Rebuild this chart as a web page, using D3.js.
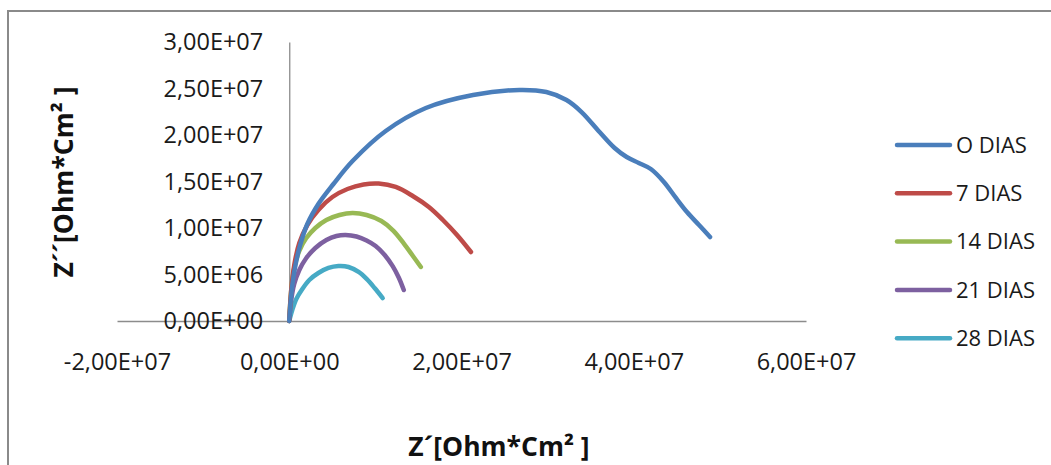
<!DOCTYPE html>
<html>
<head>
<meta charset="utf-8">
<script src="https://cdn.jsdelivr.net/npm/d3@7/dist/d3.min.js"></script>
<style>
  html, body { margin: 0; padding: 0; background: #fff; }
  svg { display: block; }
  .tick text { font-family: "Open Sans", "Liberation Sans", sans-serif; fill: #1a1a1a; }
</style>
</head>
<body>
<svg id="chart" width="1051" height="465"></svg>
<script>
// Nyquist plot: Z' (real) vs Z'' (imaginary) for each immersion time
const seriesNames = ["O DIAS", "7 DIAS", "14 DIAS", "21 DIAS", "28 DIAS"];
const seriesColors = ["#4a7ebb", "#be4b48", "#98b954", "#7d60a0", "#46aac5"];

// Z' and Z'' values, in units of 1E+06 Ohm*Cm²
const zReal0  = [0, 0.23, 0.58, 1.17, 2.10, 3.38, 5.13, 7.35, 11.20, 15.86, 21.34, 26.71, 29.85, 32.19, 33.94, 36.03, 37.78, 39.18, 40.58, 41.98, 43.50, 44.90, 46.18, 47.58, 48.86];
const zImag0  = [0, 2.80, 5.27, 7.85, 10.43, 12.58, 14.73, 17.20, 20.43, 22.90, 24.30, 24.84, 24.62, 23.76, 22.47, 20.32, 18.60, 17.63, 16.99, 16.34, 14.95, 13.23, 11.72, 10.32, 9.03];

const zReal7  = [0, 0.23, 0.58, 1.17, 2.10, 3.38, 5.01, 6.76, 8.63, 10.38, 12.36, 14.34, 16.21, 17.84, 19.48, 21.10];
const zImag7  = [0, 3.33, 6.02, 8.39, 10.32, 11.94, 13.33, 14.19, 14.68, 14.78, 14.41, 13.44, 12.26, 10.86, 9.25, 7.42];

const zReal14 = [0, 0.23, 0.58, 1.17, 1.98, 3.03, 4.31, 5.83, 7.35, 8.98, 10.70, 12.10, 13.29, 14.34, 15.28];
const zImag14 = [0, 3.33, 5.70, 7.53, 8.92, 10.00, 10.86, 11.40, 11.61, 11.40, 10.75, 9.70, 8.35, 7.02, 5.81];

const zReal21 = [0, 0.23, 0.58, 1.17, 1.98, 3.03, 4.31, 5.48, 6.53, 7.81, 8.98, 10.03, 11.08, 12.01, 12.71, 13.30];
const zImag21 = [0, 2.26, 3.98, 5.48, 6.77, 7.85, 8.71, 9.14, 9.25, 9.09, 8.66, 8.06, 7.10, 5.90, 4.68, 3.33];

const zReal28 = [0, 0.35, 0.82, 1.52, 2.33, 3.38, 4.55, 5.71, 6.88, 8.05, 8.98, 9.91, 10.85];
const zImag28 = [0, 1.18, 2.37, 3.44, 4.41, 5.16, 5.70, 5.91, 5.81, 5.27, 4.52, 3.55, 2.47];

const unit = 1e6;

const xTicks = [-2e7, 0, 2e7, 4e7, 6e7];
const yTicks = [0, 5e6, 1e7, 1.5e7, 2e7, 2.5e7, 3e7];

const xTitle = "Z´[Ohm*Cm² ]";
const yTitle = "Z´´[Ohm*Cm² ]";

// Spreadsheet-style scientific labels: 2,50E+07
function sci(v) {
  if (v === 0) return "0,00E+00";
  const e = Math.floor(Math.log10(Math.abs(v)) + 1e-9);
  const m = v / Math.pow(10, e);
  const es = (e < 0 ? "-" : "+") + String(Math.abs(e)).padStart(2, "0");
  return m.toFixed(2).replace(".", ",") + "E" + es;
}

const series = [
  { name: seriesNames[0], color: seriesColors[0], xs: zReal0,  ys: zImag0 },
  { name: seriesNames[1], color: seriesColors[1], xs: zReal7,  ys: zImag7 },
  { name: seriesNames[2], color: seriesColors[2], xs: zReal14, ys: zImag14 },
  { name: seriesNames[3], color: seriesColors[3], xs: zReal21, ys: zImag21 },
  { name: seriesNames[4], color: seriesColors[4], xs: zReal28, ys: zImag28 }
];

const svg = d3.select("#chart");

// outer chart frame
svg.append("rect")
  .attr("x", 8).attr("y", 11)
  .attr("width", 1100).attr("height", 520)
  .attr("fill", "#fff")
  .attr("stroke", "#8a8a8a")
  .attr("stroke-width", 2);

const x = d3.scaleLinear().domain([-2e7, 6e7]).range([117, 806]);
const y = d3.scaleLinear().domain([0, 3e7]).range([321, 42]);

const axisColor = "#8c8c8c";
const tickFont = 23.5;

// horizontal axis through Z''=0
const gx = svg.append("g")
  .attr("transform", `translate(0,${y(0)})`)
  .call(d3.axisBottom(x).tickValues(xTicks).tickFormat(sci).tickSize(0).tickSizeOuter(0).tickPadding(32));
gx.select(".domain").attr("stroke", axisColor).attr("stroke-width", 1.3);
gx.selectAll(".tick text").attr("font-size", tickFont);

// vertical axis through Z'=0
const gy = svg.append("g")
  .attr("transform", `translate(${x(0)},0)`)
  .call(d3.axisLeft(y).tickValues(yTicks).tickFormat(sci).tickSize(0).tickSizeOuter(0).tickPadding(26));
gy.select(".domain").attr("stroke", axisColor).attr("stroke-width", 1.3);
gy.selectAll(".tick text").attr("font-size", tickFont);

// smoothed curves
const line = d3.line()
  .x(d => x(d[0] * unit))
  .y(d => y(d[1] * unit))
  .curve(d3.curveCatmullRom.alpha(0.5));

const plot = svg.append("g");
series.slice().reverse().forEach(s => {
  const pts = s.xs.map((v, i) => [v, s.ys[i]]);
  plot.append("path")
    .datum(pts)
    .attr("d", line)
    .attr("fill", "none")
    .attr("stroke", s.color)
    .attr("stroke-width", 4.5)
    .attr("stroke-linecap", "round")
    .attr("stroke-linejoin", "round");
});

// axis titles
const titleFont = "'Open Sans', 'Liberation Sans', sans-serif";
svg.append("text")
  .attr("x", 499).attr("y", 456)
  .attr("text-anchor", "middle")
  .attr("font-family", titleFont)
  .attr("font-weight", "bold")
  .attr("font-size", 26.5)
  .attr("fill", "#111")
  .text(xTitle);

svg.append("text")
  .attr("transform", "translate(73,182) rotate(-90)")
  .attr("text-anchor", "middle")
  .attr("font-family", titleFont)
  .attr("font-weight", "bold")
  .attr("font-size", 26.5)
  .attr("fill", "#111")
  .text(yTitle);

// legend
const legend = svg.append("g");
series.forEach((s, i) => {
  const ly = 145 + i * 48.3;
  legend.append("line")
    .attr("x1", 897).attr("x2", 950)
    .attr("y1", ly).attr("y2", ly)
    .attr("stroke", s.color)
    .attr("stroke-width", 4.5)
    .attr("stroke-linecap", "round");
  legend.append("text")
    .attr("x", 956).attr("y", ly)
    .attr("dy", "0.35em")
    .attr("font-family", titleFont)
    .attr("font-size", 22)
    .attr("fill", "#1a1a1a")
    .text(s.name);
});
</script>
</body>
</html>
